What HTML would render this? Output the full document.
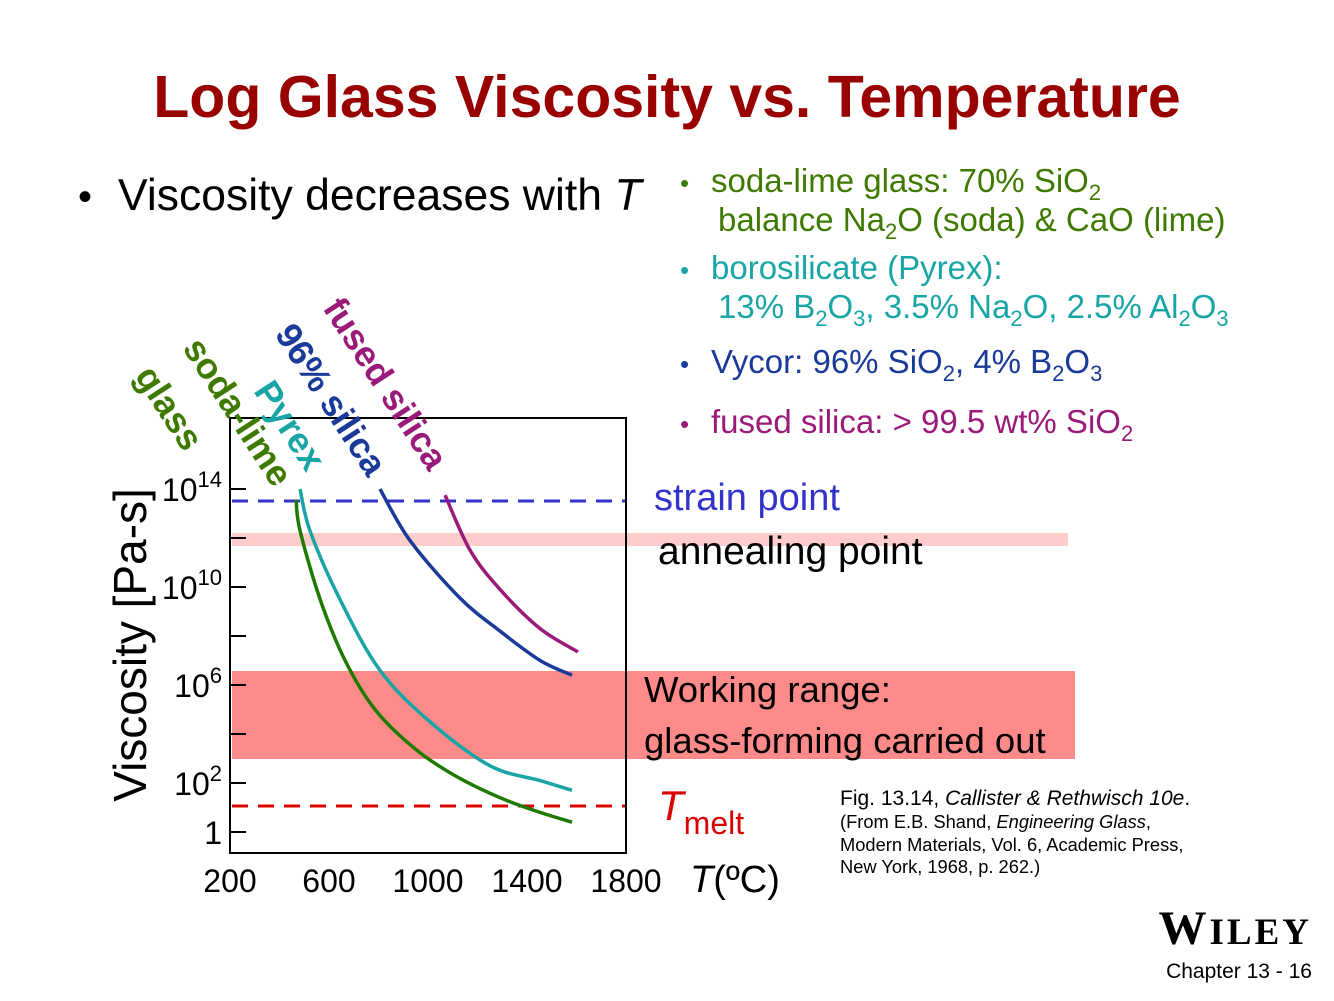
<!DOCTYPE html>
<html><head><meta charset="utf-8"><style>
body{margin:0;background:#fff}
svg{display:block;font-family:"Liberation Sans",Arial,sans-serif}
</style></head><body>
<svg id="chart" width="1334" height="1001" viewBox="0 0 1334 1001">
<text x="667" y="117" text-anchor="middle" font-size="59" font-weight="bold" fill="#990000">Log Glass Viscosity vs. Temperature</text>
<text x="78" y="210" font-size="40" fill="#000">•</text>
<text x="118" y="210" font-size="44.5" fill="#000">Viscosity decreases with <tspan font-style="italic">T</tspan></text>
<g font-size="33">
<text x="680" y="192" font-size="26" fill="#3f7a00">•</text>
<text x="711" y="192" fill="#3f7a00">soda-lime glass: 70% SiO<tspan font-size="22" dy="8">2</tspan></text>
<text x="718" y="231" fill="#3f7a00">balance Na<tspan font-size="22" dy="8">2</tspan><tspan dy="-8">O (soda) &amp; CaO (lime)</tspan></text>
<text x="680" y="279" font-size="26" fill="#19a5a5">•</text>
<text x="711" y="279" fill="#19a5a5">borosilicate (Pyrex):</text>
<text x="718" y="318" fill="#19a5a5">13% B<tspan font-size="22" dy="8">2</tspan><tspan dy="-8">O</tspan><tspan font-size="22" dy="8">3</tspan><tspan dy="-8">, 3.5% Na</tspan><tspan font-size="22" dy="8">2</tspan><tspan dy="-8">O,  2.5% Al</tspan><tspan font-size="22" dy="8">2</tspan><tspan dy="-8">O</tspan><tspan font-size="22" dy="8">3</tspan></text>
<text x="680" y="373" font-size="26" fill="#1a3a9a">•</text>
<text x="711" y="373" fill="#1a3a9a">Vycor:  96% SiO<tspan font-size="22" dy="8">2</tspan><tspan dy="-8">,  4% B</tspan><tspan font-size="22" dy="8">2</tspan><tspan dy="-8">O</tspan><tspan font-size="22" dy="8">3</tspan></text>
<text x="680" y="433" font-size="26" fill="#9a1a7a">•</text>
<text x="711" y="433" fill="#9a1a7a">fused silica:  &gt; 99.5 wt% SiO<tspan font-size="22" dy="8">2</tspan></text>
</g>
<rect x="232" y="533" width="836" height="13" fill="#ffcccc"/>
<rect x="232" y="671" width="843" height="88" fill="#ff8a8a"/>
<line x1="232" y1="501" x2="626" y2="501" stroke="#3333cc" stroke-width="3" stroke-dasharray="16,10"/>
<line x1="232" y1="806" x2="626" y2="806" stroke="#dd0000" stroke-width="3" stroke-dasharray="16,10"/>
<rect x="230" y="418" width="396" height="435" fill="none" stroke="#000" stroke-width="2"/>
<g id="ticks"></g>
<g id="curves"></g>
<text x="654" y="510" font-size="38" fill="#3333cc">strain point</text>
<text x="658" y="564" font-size="39" fill="#000">annealing point</text>
<text x="644" y="702" font-size="36.5" fill="#000">Working range:</text>
<text x="644" y="753" font-size="36.5" fill="#000">glass-forming carried out</text>
<text x="658" y="820" font-size="42" fill="#dd0000" font-style="italic">T<tspan font-style="normal" font-size="32" dy="14">melt</tspan></text>
<text x="690" y="892" font-size="38" fill="#000"><tspan font-style="italic">T</tspan>(ºC)</text>
<text transform="translate(146,645) rotate(-90)" text-anchor="middle" font-size="46" fill="#000">Viscosity [Pa-s]</text>
<g font-size="36" font-weight="bold">
<text transform="translate(134,376) rotate(57)" fill="#3f7a00">glass</text>
<text transform="translate(182,348) rotate(57)" fill="#3f7a00">soda-lime</text>
<text transform="translate(253,391) rotate(57)" fill="#19a5a5">Pyrex</text>
<text transform="translate(274,334) rotate(57)" fill="#1a3a9a">96% silica</text>
<text transform="translate(322,308) rotate(57)" fill="#9a1a7a">fused silica</text>
</g>
<g font-size="18.3" fill="#000">
<text x="840" y="805" font-size="21">Fig. 13.14, <tspan font-style="italic">Callister &amp; Rethwisch 10e</tspan>.</text>
<text x="840" y="828">(From E.B. Shand, <tspan font-style="italic">Engineering Glass</tspan>,</text>
<text x="840" y="851">Modern Materials, Vol. 6, Academic Press,</text>
<text x="840" y="873">New York, 1968, p. 262.)</text>
</g>
<text x="1312" y="944" text-anchor="end" font-family="Liberation Serif,serif" font-size="48" font-weight="bold" fill="#000" letter-spacing="3">W<tspan font-size="37">ILEY</tspan></text>
<text x="1312" y="978" text-anchor="end" font-size="21" fill="#000">Chapter 13 - 16</text>
</svg>
<script>
const xTicks=[200,600,1000,1400,1800];
const yTickLogs=[0,2,4,6,8,10,12,14];
const yLabelLogs=[0,2,6,10,14];
const sodaT=[467,483,564,665,786,947,1109,1291,1453,1582];
const sodaV=[13.55,12.3,9.5,7.0,5.0,3.4,2.3,1.4,0.8,0.4];
const pyrexT=[483,523,644,806,1008,1251,1453,1582];
const pyrexV=[14,12.3,9.5,6.6,4.5,2.7,2.1,1.7];
const vycorT=[806,927,1129,1291,1453,1582];
const vycorV=[14,11.9,9.55,8.2,7.0,6.4];
const fusedT=[1069,1170,1291,1453,1606];
const fusedV=[13.75,11.5,9.9,8.3,7.35];
const NS='http://www.w3.org/2000/svg';
function xs(t){return 230+(t-200)*396/1600;}
function ys(l){return 832-l*24.5;}
const tg=document.getElementById('ticks');
xTicks.forEach(t=>{
 const tx=document.createElementNS(NS,'text');
 tx.setAttribute('x',xs(t));tx.setAttribute('y',892);tx.setAttribute('text-anchor','middle');tx.setAttribute('font-size','32');
 tx.textContent=t;
 
 
 tg.appendChild(tx);
});
yTickLogs.forEach(l=>{
 const ln=document.createElementNS(NS,'line');
 ln.setAttribute('x1',230);ln.setAttribute('x2',246);ln.setAttribute('y1',ys(l));ln.setAttribute('y2',ys(l));
 ln.setAttribute('stroke','#000');ln.setAttribute('stroke-width','2');
 
 
 tg.appendChild(ln);
});
yLabelLogs.forEach(l=>{
 const tx=document.createElementNS(NS,'text');
 tx.setAttribute('x',222);tx.setAttribute('y',ys(l)+12);tx.setAttribute('text-anchor','end');tx.setAttribute('font-size','32');
 if(l===0){tx.textContent='1';}else{tx.innerHTML='10<tspan font-size="22" dy="-14">'+l+'</tspan>';}
 
 
 tg.appendChild(tx);
});
const cg=document.getElementById('curves');
function curve(T,V,color,name){
 const pts=T.map((t,i)=>[xs(t),ys(V[i])]);
 let d='M'+pts[0][0]+','+pts[0][1];
 for(let i=0;i<pts.length-1;i++){
  const p0=pts[Math.max(0,i-1)],p1=pts[i],p2=pts[i+1],p3=pts[Math.min(pts.length-1,i+2)];
  const c1x=p1[0]+(p2[0]-p0[0])/6,c1y=p1[1]+(p2[1]-p0[1])/6;
  const c2x=p2[0]-(p3[0]-p1[0])/6,c2y=p2[1]-(p3[1]-p1[1])/6;
  d+=' C'+c1x+','+c1y+' '+c2x+','+c2y+' '+p2[0]+','+p2[1];
 }
 const p=document.createElementNS(NS,'path');
 p.setAttribute('d',d);
 p.setAttribute('fill','none');p.setAttribute('stroke',color);p.setAttribute('stroke-width','3.5');p.setAttribute('stroke-linejoin','round');
 
 
 cg.appendChild(p);
}
curve(sodaT,sodaV,'#1e7a00','soda-lime-curve');
curve(pyrexT,pyrexV,'#19a5a5','pyrex-curve');
curve(vycorT,vycorV,'#1a3a9a','vycor-curve');
curve(fusedT,fusedV,'#9a1a7a','fused-silica-curve');
</script>
</body></html>
